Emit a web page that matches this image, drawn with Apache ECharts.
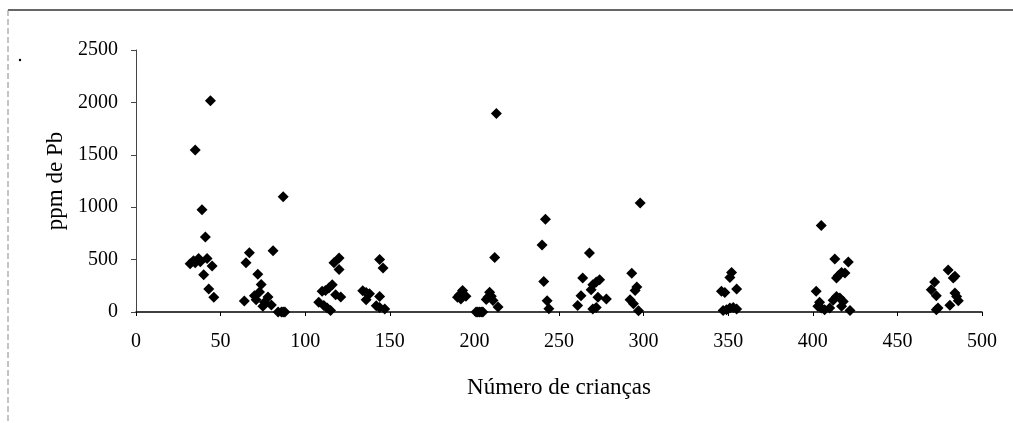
<!DOCTYPE html>
<html>
<head>
<meta charset="utf-8">
<script src="https://cdn.jsdelivr.net/npm/echarts@6/dist/echarts.min.js"></script>
<style>
  html, body { margin: 0; padding: 0; background: #fff; }
  #main { width: 1013px; height: 423px; }
</style>
</head>
<body>
<div id="main"></div>
<script>
// número de crianças (eixo x) e ppm de Pb (eixo y)
var nCriancas = [
  32, 34, 35, 37, 38, 42, 35, 44, 39, 41, 45, 40, 43, 46,
  64, 65, 67, 72, 74, 70, 71, 73, 75, 76, 78, 80, 81, 87, 84, 86, 87, 88,
  108, 110, 111, 112, 113, 114, 115, 116, 117, 118, 120, 120, 121,
  134, 136, 138, 136, 144, 146, 144, 142, 144, 147,
  190, 191, 193, 195, 192, 201, 202, 203, 204, 205, 207, 208, 209, 210, 211, 214, 212, 213,
  240, 242, 241, 243, 244,
  261, 263, 264, 268, 269, 270, 272, 274, 273, 278, 270, 272,
  293, 298, 296, 295, 292, 294, 297,
  346, 348, 351, 352, 355, 347, 349, 351, 353, 355,
  402, 405, 413, 421, 417, 415, 414, 419, 404, 403, 405, 407, 410, 414, 416, 418, 412, 417, 422,
  470, 472, 473, 473, 474, 480, 484, 483, 484, 485, 486, 481
];
var ppmPb = [
  460, 490, 470, 510, 480, 510, 1545, 2015, 975, 715, 440, 355, 220, 140,
  105, 470, 565, 360, 262, 155, 117, 190, 54, 92, 143, 67, 585, 1100, 0, 0, 0, 0,
  92, 197, 63, 206, 38, 229, 15, 260, 470, 165, 515, 405, 143,
  203, 187, 175, 117, 500, 420, 149, 60, 44, 29,
  140, 160, 206, 150, 124, 0, 0, 0, 0, 0, 120, 140, 188, 150, 110, 48, 520, 1895,
  640, 885, 292, 108, 30,
  63, 155, 325, 563, 213, 260, 286, 308, 140, 124, 29, 44,
  370, 1040, 238, 206, 117, 79, 12,
  197, 187, 330, 378, 220, 15, 21, 38, 44, 29,
  197, 825, 505, 477, 378, 346, 324, 372, 92, 54, 38, 22, 38, 149, 134, 101, 111, 54, 15,
  213, 286, 155, 22, 38, 400, 340, 324, 181, 149, 108, 65
];

var pontos = [];
for (var i = 0; i < nCriancas.length; i++) {
  pontos.push([nCriancas[i], ppmPb[i]]);
}

var fonte = '"Liberation Serif", "Times New Roman", serif';

var myChart = echarts.init(document.getElementById('main'));

option = {
  animation: false,
  backgroundColor: '#fff',
  grid: { left: 136, right: 31, top: 50, bottom: 111 },
  xAxis: {
    type: 'value',
    min: 0,
    max: 500,
    interval: 50,
    name: 'Número de crianças',
    nameLocation: 'middle',
    nameGap: 64,
    nameTextStyle: { fontFamily: fonte, fontSize: 23, color: '#000' },
    axisLine: { show: true, onZero: false, lineStyle: { color: '#000', width: 1.5 } },
    axisTick: { show: true, inside: false, length: 4, lineStyle: { color: '#000' } },
    axisLabel: { margin: 20, fontFamily: fonte, fontSize: 20, color: '#000' },
    splitLine: { show: false }
  },
  yAxis: {
    type: 'value',
    min: 0,
    max: 2500,
    interval: 500,
    name: 'ppm de Pb',
    nameLocation: 'middle',
    nameGap: 60,
    nameRotate: 90,
    nameTextStyle: { fontFamily: fonte, fontSize: 23, color: '#000' },
    axisLine: { show: true, lineStyle: { color: '#444', width: 1 } },
    axisTick: { show: true, inside: false, length: 5, lineStyle: { color: '#444' } },
    axisLabel: {
      margin: 18, fontFamily: fonte, fontSize: 20, color: '#000',
      formatter: function (v) { return String(v); }
    },
    splitLine: { show: false }
  },
  graphic: [
    { type: 'line', shape: { x1: 8, y1: 10, x2: 1013, y2: 10 }, style: { stroke: '#333', lineWidth: 1.5 } },
    { type: 'line', shape: { x1: 8, y1: 10, x2: 8, y2: 423 }, style: { stroke: '#888', lineWidth: 1, lineDash: [6, 3] } },
    { type: 'circle', shape: { cx: 20, cy: 60, r: 1.2 }, style: { fill: '#000' } }
  ],
  series: [
    {
      type: 'scatter',
      symbol: 'diamond',
      symbolSize: 11,
      itemStyle: { color: '#000', opacity: 1 },
      data: pontos
    }
  ]
};

myChart.setOption(option);
</script>
</body>
</html>
